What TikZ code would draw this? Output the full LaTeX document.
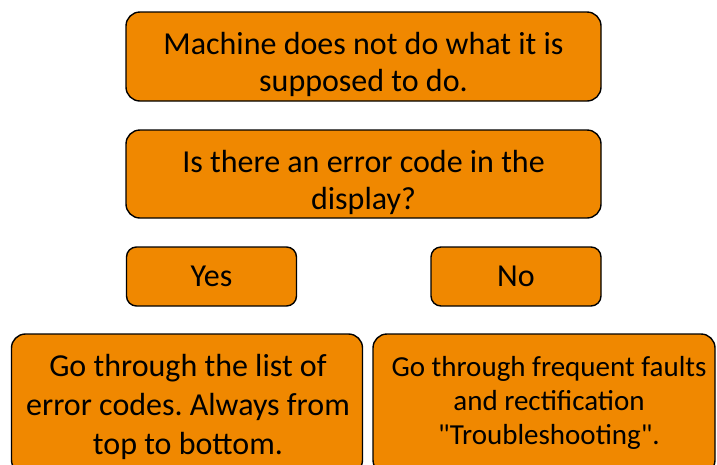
\documentclass[tikz,border=0pt]{standalone}
\usepackage{fontspec}
\setmainfont{Carlito}
\frenchspacing
\definecolor{boxorange}{RGB}{240,136,0}
\newcommand{\sline}[1]{\strut#1}
\tikzset{
  stepbox/.style={draw=black, line width=1.4pt, fill=boxorange, rounded corners=14pt, inner sep=0pt},
  smallbox/.style={stepbox, rounded corners=10pt, minimum width=170pt, minimum height=59pt},
  boxtext/.style={anchor=north, align=center, inner sep=0pt, font=\fontsize{32}{37}\selectfont},
  smalltext/.style={boxtext, font=\fontsize{29}{34}\selectfont}
}
\begin{document}
\begin{tikzpicture}[x=1pt,y=-1pt]
    \useasboundingbox (0,0) rectangle (717,464);
    \clip (0,0) rectangle (717,464);
    % boxes
    \node[stepbox, minimum width=475pt, minimum height=89pt] (fault) at (363.5,56.5) {};
    \node[stepbox, minimum width=475pt, minimum height=88pt] (question) at (363.5,174) {};
    \node[smallbox] (yes) at (211.5,276.5) {};
    \node[smallbox] (no) at (516,276.5) {};
    \node[stepbox, minimum width=351pt, minimum height=140pt] (codes) at (187,404) {};
    \node[stepbox, minimum width=342pt, minimum height=140pt] (faults) at (544,404) {};
    % texts
    \node[boxtext] (fault-text) at (363.5,28.1)
      {\sline{Machine does not do what it is}\\\sline{supposed to do.}};
    \node[boxtext] (question-text) at (363.5,146.1)
      {\sline{Is there an error code in the}\\\sline{display?}};
    \node[boxtext] (yes-text) at (211.5,260.8) {\sline{Yes}};
    \node[boxtext] (no-text) at (516,260.8) {\sline{No}};
    \node[boxtext, font=\fontsize{32}{39}\selectfont] (codes-text) at (188,349.4)
      {\sline{Go through the list of}\\\sline{error codes. Always from}\\\sline{top to bottom.}};
    \node[smalltext] (faults-text) at (549,352.9)
      {\sline{Go through frequent faults}\\\sline{and rectification}\\\sline{\textquotedbl Troubleshooting\textquotedbl.}};
\end{tikzpicture}
\end{document}
